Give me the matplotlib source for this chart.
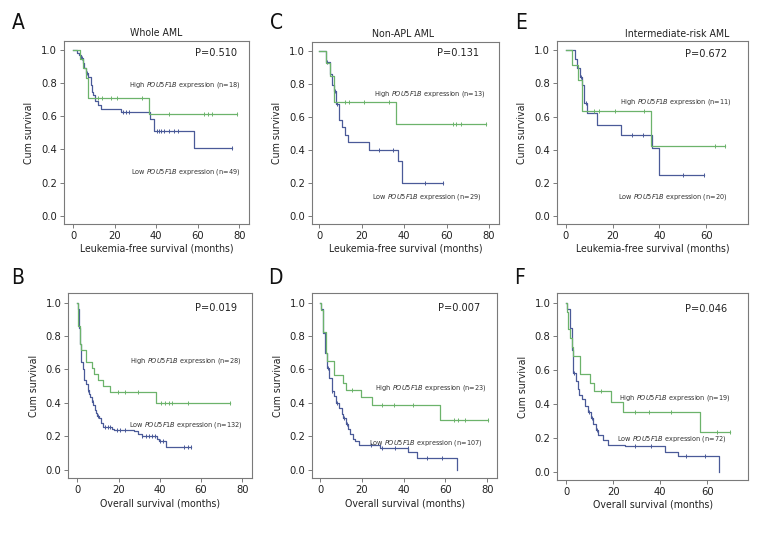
import matplotlib
matplotlib.use('Agg')
import matplotlib.pyplot as plt
import numpy as np

plt.rcParams['font.family'] = ['DejaVu Sans']
plt.rcParams['font.stretch'] = 'condensed'
plt.rcParams['mathtext.fontset'] = 'custom'
plt.rcParams['mathtext.rm'] = 'DejaVu Sans:stretch=condensed'
plt.rcParams['mathtext.it'] = 'DejaVu Sans:italic:stretch=condensed'

GREEN = '#6cb36b'
BLUE = '#4a5a98'
GRAY = '#7a7a7a'

# ---- data (months, cumulative survival) ----
# A: Whole AML, leukemia-free survival
a_high_t = [3.2, 4.8, 6, 7, 36.3]
a_high_s = [0.944, 0.889, 0.833, 0.713, 0.614]
a_high_cens = [12, 14, 18, 21, 33, 46, 63, 65, 67, 79]
a_low_t = [2, 2.7, 3.7, 4.8, 5.3, 6, 6.9, 8.5, 9.2, 9.7, 10.5, 11.8, 13.4, 22.8, 36.8, 39, 58.3]
a_low_s = [0.98, 0.97, 0.95, 0.92, 0.89, 0.86, 0.835, 0.79, 0.75, 0.73, 0.693, 0.669, 0.645, 0.625, 0.584, 0.514, 0.408]
a_low_cens = [4, 6.4, 24, 25.5, 27, 40.3, 41.4, 42.4, 43.5, 45.9, 48.3, 50.7, 76.5]

# C: Non-APL AML, leukemia-free survival
c_high_t = [3.2, 4.8, 7, 36.3]
c_high_s = [0.923, 0.846, 0.692, 0.554]
c_high_cens = [12, 14, 21, 32.6, 63, 64.6, 66.7, 78.7]
c_low_t = [3.2, 4.8, 5.9, 7, 8, 9.3, 10.7, 12.3, 13.4, 23.2, 37.1, 39]
c_low_s = [0.93, 0.86, 0.79, 0.755, 0.68, 0.58, 0.535, 0.49, 0.445, 0.40, 0.333, 0.20]
c_low_cens = [3.5, 7.5, 8.3, 28, 34.7, 50, 58.2]

# E: Intermediate-risk AML, leukemia-free survival
e_high_t = [2.8, 5.1, 7.1, 36.4]
e_high_s = [0.909, 0.818, 0.636, 0.424]
e_high_cens = [12.2, 14.2, 21, 33.4, 63.7, 68]
e_low_t = [4, 5, 6, 7, 8, 9, 13.2, 23.5, 37, 39.8]
e_low_s = [0.95, 0.895, 0.84, 0.79, 0.68, 0.62, 0.55, 0.49, 0.41, 0.245]
e_low_cens = [6.5, 8.5, 28.4, 33, 50.2, 59]

# B: Whole AML, overall survival
b_high_t = [0.4, 1.3, 2, 4, 7, 8, 10, 12.5, 16, 38]
b_high_s = [0.857, 0.75, 0.714, 0.643, 0.607, 0.571, 0.536, 0.5, 0.464, 0.40]
b_high_cens = [19.5, 23.3, 29.2, 40.5, 42.6, 44.6, 45.9, 53.5, 74.2]
b_low_t = [0.3, 0.8, 1.3, 2, 2.6, 3.4, 4.2, 5, 5.5, 6.1, 7, 7.7, 8.4, 9, 9.6, 10.5, 11.3, 12.2,
           17, 18, 27.6, 29.5, 31.3, 38.5, 39.5, 43]
b_low_s = [0.96, 0.85, 0.75, 0.646, 0.60, 0.536, 0.516, 0.476, 0.456, 0.436, 0.406, 0.386, 0.355,
           0.34, 0.325, 0.31, 0.28, 0.259, 0.247, 0.24, 0.23, 0.215, 0.20, 0.185, 0.17, 0.135]
b_low_cens = [5.2, 7.5, 10, 13.5, 15, 16, 19, 20.5, 23, 31.3, 33.3, 34.6, 36.2, 37.8, 40, 41.4,
              51.9, 53.5, 55]

# D: Non-APL AML, overall survival
d_high_t = [0.5, 1.6, 2.9, 3.5, 6.7, 10.8, 12.4, 19.4, 24.7, 57.3]
d_high_s = [0.957, 0.826, 0.696, 0.652, 0.565, 0.522, 0.478, 0.435, 0.385, 0.30]
d_high_cens = [15.2, 29.5, 35.5, 44.6, 64.2, 66.1, 69.3, 80.4]
d_low_t = [0.5, 1.6, 2.5, 3.5, 4.5, 5.6, 6.5, 7.6, 9.2, 10.4, 11.1, 12.4, 13.5, 14.3, 15.6, 16.7,
           18.8, 28.7, 42.2, 46.5, 65.3]
d_low_s = [0.96, 0.82, 0.70, 0.61, 0.55, 0.47, 0.44, 0.40, 0.37, 0.335, 0.31, 0.275, 0.245, 0.215,
           0.185, 0.17, 0.15, 0.13, 0.11, 0.07, 0.0]
d_low_cens = [3.7, 5.8, 8, 11.5, 12.8, 24.5, 29.5, 36, 42, 51, 58.5]

# F: Intermediate-risk AML, overall survival
f_high_t = [0.5, 1, 1.5, 2.5, 3, 6, 10, 12, 19.3, 24.3, 57.1]
f_high_s = [0.947, 0.842, 0.789, 0.737, 0.684, 0.579, 0.526, 0.474, 0.414, 0.355, 0.237]
f_high_cens = [14.9, 29.3, 35.2, 44.4, 64.2, 69.6]
f_low_t = [0.5, 1.7, 2.5, 3.1, 4.1, 5, 5.6, 6.7, 8.1, 9.5, 10.6, 11.6, 12.6, 13.7, 15.8, 18, 25,
           42, 47.4, 65]
f_low_s = [0.96, 0.85, 0.72, 0.586, 0.536, 0.486, 0.456, 0.43, 0.386, 0.355, 0.315, 0.281, 0.245,
           0.215, 0.185, 0.16, 0.149, 0.114, 0.09, 0.0]
f_low_cens = [3.3, 9.8, 11.2, 13.2, 29.5, 36, 51, 59]

letters = ['A', 'C', 'E', 'B', 'D', 'F']
titles = ['Whole AML', 'Non-APL AML', 'Intermediate-risk AML', '', '', '']
xlabels = ['Leukemia-free survival (months)'] * 3 + ['Overall survival (months)'] * 3
pvalues = ['P=0.510', 'P=0.131', 'P=0.672', 'P=0.019', 'P=0.007', 'P=0.046']
n_high = [18, 13, 11, 28, 23, 19]
n_low = [49, 29, 20, 132, 107, 72]
xtick_sets = [[0, 20, 40, 60, 80], [0, 20, 40, 60, 80], [0, 20, 40, 60],
              [0, 20, 40, 60, 80], [0, 20, 40, 60, 80], [0, 20, 40, 60]]

curves = [
    (a_high_t, a_high_s, a_high_cens, a_low_t, a_low_s, a_low_cens),
    (c_high_t, c_high_s, c_high_cens, c_low_t, c_low_s, c_low_cens),
    (e_high_t, e_high_s, e_high_cens, e_low_t, e_low_s, e_low_cens),
    (b_high_t, b_high_s, b_high_cens, b_low_t, b_low_s, b_low_cens),
    (d_high_t, d_high_s, d_high_cens, d_low_t, d_low_s, d_low_cens),
    (f_high_t, f_high_s, f_high_cens, f_low_t, f_low_s, f_low_cens),
]

# layout in pixels: axes (x0, x1, top, bottom), xlim, title x, text positions (axes fraction)
W, H = 768, 540
boxes = [(64, 249, 41, 224), (312, 499, 41.7, 224), (556.7, 748.3, 41.3, 224),
         (68.3, 251.7, 293.3, 478.3), (312.3, 497.3, 293.3, 478.3), (557.3, 748.3, 293.3, 480)]
xlims = [(-4.5, 84.7), (-3.5, 84.7), (-3.8, 77.9), (-4.4, 84.6), (-3.7, 84.8), (-3.7, 77.4)]
title_x = [0.497, 0.487, 0.626, 0.5, 0.5, 0.5]
letter_pos = [(18, 23), (277, 23), (521, 23), (18, 278), (275, 278), (520, 278)]
high_pos = [(0.955, 0.76), (0.93, 0.713), (0.91, 0.67), (0.945, 0.636), (0.939, 0.486), (0.909, 0.44)]
low_pos = [(0.951, 0.283), (0.905, 0.15), (0.892, 0.146), (0.949, 0.288), (0.919, 0.189), (0.887, 0.218)]
p_pos = [(0.937, 0.933), (0.895, 0.936), (0.887, 0.933), (0.921, 0.919), (0.906, 0.919), (0.887, 0.918)]


def step_value(t, s, x):
    """survival at time x for a step curve starting at 1.0"""
    val = 1.0
    for ti, si in zip(t, s):
        if ti <= x:
            val = si
    return val


def draw_km(ax, t, s, cens, color):
    end = max(max(t), max(cens))
    xs = [0] + list(t) + [end]
    ys = [1.0] + list(s) + [s[-1]]
    ax.plot(xs, ys, drawstyle='steps-post', color=color, lw=0.9)
    cy = [step_value(t, s, c) for c in cens]
    ax.plot(cens, cy, ls='none', marker='|', ms=3.5, mew=0.7, color=color)


fig = plt.figure(figsize=(W / 100, H / 100), dpi=100)

for i in range(6):
    x0, x1, top, bot = boxes[i]
    ax = fig.add_axes([x0 / W, 1 - bot / H, (x1 - x0) / W, (bot - top) / H])
    ht, hs, hc, lt, ls_, lc = curves[i]
    draw_km(ax, lt, ls_, lc, BLUE)
    draw_km(ax, ht, hs, hc, GREEN)

    ax.set_xlim(*xlims[i])
    ax.set_ylim(-0.05, 1.055)
    ax.set_yticks([0, 0.2, 0.4, 0.6, 0.8, 1.0])
    ax.set_yticklabels(['0.0', '0.2', '0.4', '0.6', '0.8', '1.0'])
    ax.set_xticks(xtick_sets[i])
    for sp in ax.spines.values():
        sp.set_color(GRAY)
        sp.set_linewidth(0.8)
    ax.tick_params(direction='out', length=3, width=0.7, color=GRAY,
                   labelsize=8, labelcolor='#222222', pad=2)
    ax.set_ylabel('Cum survival', fontsize=7.6, labelpad=5, color='#222222')
    ax.set_xlabel(xlabels[i], fontsize=7.6, labelpad=2, color='#222222')

    if titles[i]:
        ax.text(title_x[i], 1.015, titles[i], transform=ax.transAxes, ha='center',
                va='bottom', fontsize=7.6, color='#222222')

    ax.text(p_pos[i][0], p_pos[i][1], pvalues[i], transform=ax.transAxes, ha='right',
            va='center', fontsize=7.8, color='#222222')
    ax.text(high_pos[i][0], high_pos[i][1],
            'High $\\mathit{POU5F1B}$ expression (n=%d)' % n_high[i],
            transform=ax.transAxes, ha='right', va='center', fontsize=5.2, color='#333333')
    ax.text(low_pos[i][0], low_pos[i][1],
            'Low $\\mathit{POU5F1B}$ expression (n=%d)' % n_low[i],
            transform=ax.transAxes, ha='right', va='center', fontsize=5.2, color='#333333')

    lx, ly = letter_pos[i]
    fig.text(lx / W, 1 - ly / H, letters[i], ha='center', va='center', fontsize=15,
             color='#111111')

fig.savefig('out.png', dpi=100)
